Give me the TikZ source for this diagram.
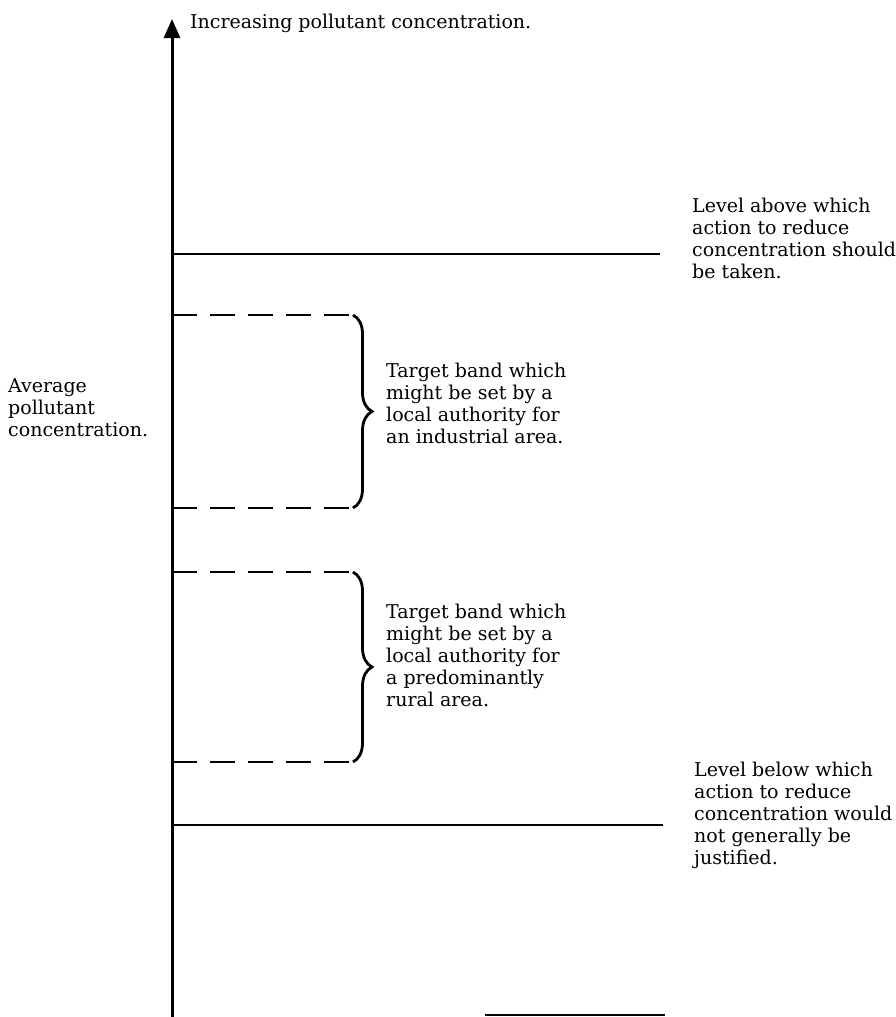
\documentclass[tikz,border=0pt]{standalone}
\usepackage{fontspec}
\setmainfont{DejaVu Serif}
\usetikzlibrary{arrows.meta,decorations.pathreplacing}

\begin{document}
\begin{tikzpicture}[x=1pt,y=-1pt]
        \tikzstyle{every node}=[inner sep=0pt, align=left, anchor=base west, font=\fontsize{19}{22}\selectfont]
        \tikzstyle{level line}=[line width=2.6pt]
        \tikzstyle{band line}=[line width=2.6pt, dash pattern=on 25pt off 13pt]
        \tikzstyle{band brace}=[line width=2.8pt, decorate, decoration={brace, amplitude=19pt}]
        \useasboundingbox (0,0) rectangle (895,1017);
        \coordinate (origin) at (172,1017);
        \coordinate (top) at (172,19);
        \coordinate (upper) at (660,254);
        \coordinate (lower) at (663,825);
        \coordinate (stub-l) at (485,1015);
        \coordinate (stub-r) at (665,1015);
        \draw[line width=3pt, -{Triangle[length=19pt,width=16pt]}] (origin) -- (top);
        \draw[level line] (origin |- upper) -- (upper);
        \draw[level line] (origin |- lower) -- (lower);
        \draw[level line] (stub-l) -- (stub-r);
        \foreach \band/\ytop/\ybot in {industrial/315/508, rural/572/762} {
            \coordinate (\band-top) at (353,\ytop);
            \coordinate (\band-bot) at (353,\ybot);
            \draw[band line] (origin |- \band-top) -- (\band-top);
            \draw[band line] (origin |- \band-bot) -- (\band-bot);
            \draw[band brace] (\band-top) -- (\band-bot);
        }
        % base anchor of a multi-line node sits on its last line
        \node (increase) at (190,28) {Increasing pollutant concentration.};
        \node (average) at (8,436) {Average\\pollutant\\concentration.};
        \node (above) at (692,278) {Level above which\\action to reduce\\concentration should\\be taken.};
        \node (industrial) at (386,443) {Target band which\\might be set by a\\local authority for\\an industrial area.};
        \node (rural) at (386,706) {Target band which\\might be set by a\\local authority for\\a predominantly\\rural area.};
        \node (below) at (694,864) {Level below which\\action to reduce\\concentration would\\not generally be\\justified.};
\end{tikzpicture}
\end{document}
